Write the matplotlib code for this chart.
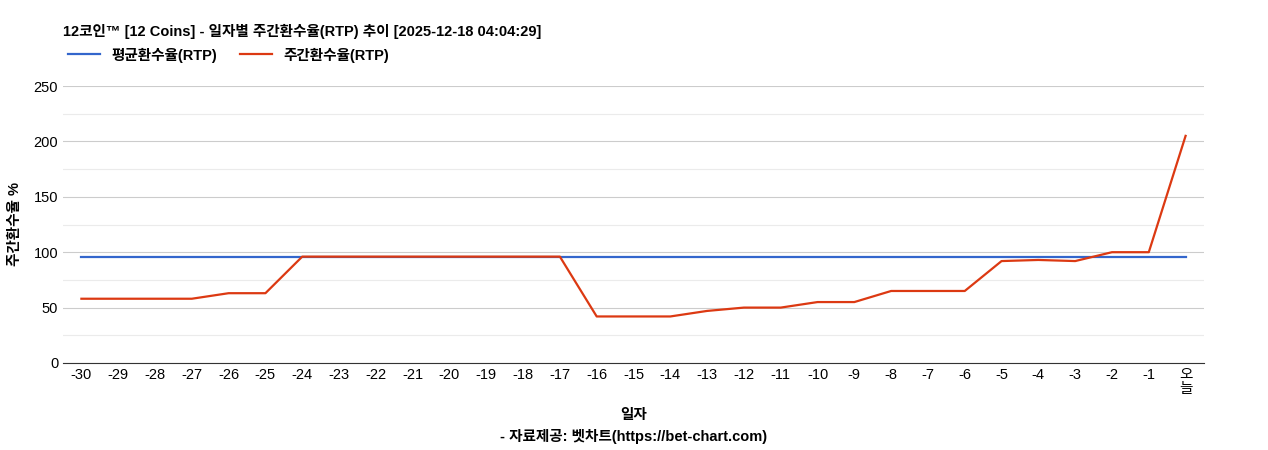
import matplotlib
matplotlib.use('Agg')
import matplotlib.pyplot as plt

plt.rcParams['font.family'] = ['Liberation Sans', 'Noto Sans CJK KR', 'DejaVu Sans']

days = ['-30', '-29', '-28', '-27', '-26', '-25', '-24', '-23', '-22', '-21',
        '-20', '-19', '-18', '-17', '-16', '-15', '-14', '-13', '-12', '-11',
        '-10', '-9', '-8', '-7', '-6', '-5', '-4', '-3', '-2', '-1', '오\n늘']
weekly_rtp = [58, 58, 58, 58, 63, 63, 96, 96, 96, 96,
              96, 96, 96, 96, 42, 42, 42, 47, 50, 50,
              55, 55, 65, 65, 65, 92, 93, 92, 100, 100, 205]
avg_rtp = 96

fig = plt.figure(figsize=(12.68, 4.5), dpi=100)
ax = fig.add_axes([63 / 1268, 1 - 363 / 450, (1204 - 63) / 1268, (363 - 86) / 450])

x = range(len(days))
ax.plot(x, [avg_rtp] * len(days), color='#3366cc', lw=1.6, label='평균환수율(RTP)')
ax.plot(x, weekly_rtp, color='#dc3912', lw=1.6, label='주간환수율(RTP)')

ax.set_xlim(-0.5, len(days) - 0.5)
ax.set_ylim(0, 250)
ax.set_yticks([0, 50, 100, 150, 200, 250])
ax.set_yticks([25, 75, 125, 175, 225], minor=True)
ax.grid(axis='y', which='major', color='#cccccc', lw=0.8)
ax.grid(axis='y', which='minor', color='#ebebeb', lw=0.8)
ax.set_axisbelow(True)
ax.set_xticks(list(x))
ax.set_xticklabels(days, fontsize=10.5, linespacing=1.0)
ax.tick_params(axis='y', labelsize=10.5, length=0)
ax.tick_params(axis='x', length=0)
ax.tick_params(axis='y', which='minor', length=0)
for s in ['top', 'right', 'left']:
    ax.spines[s].set_visible(False)
ax.spines['bottom'].set_color('#333333')

ax.set_ylabel('주간환수율 %', fontsize=10.5, fontweight='bold', labelpad=8)
fig.text((63 + 1204) / 2 / 1268, 1 - 415 / 450, '일자', ha='center', va='center',
         fontsize=10.5, fontweight='bold')
fig.text((63 + 1204) / 2 / 1268, 1 - 437 / 450, '- 자료제공: 벳차트(https://bet-chart.com)',
         ha='center', va='center', fontsize=10.5, fontweight='bold')
fig.text(63 / 1268, 1 - 31 / 450, '12코인™ [12 Coins] - 일자별 주간환수율(RTP) 추이 [2025-12-18 04:04:29]',
         ha='left', va='center', fontsize=10.5, fontweight='bold')

leg = fig.legend(loc='center left', bbox_to_anchor=(55 / 1268, 1 - 55 / 450), ncol=2,
                 frameon=False, handlelength=2.2, columnspacing=1.5,
                 prop={'weight': 'bold', 'size': 10.5})

fig.savefig('out.png', dpi=100)
